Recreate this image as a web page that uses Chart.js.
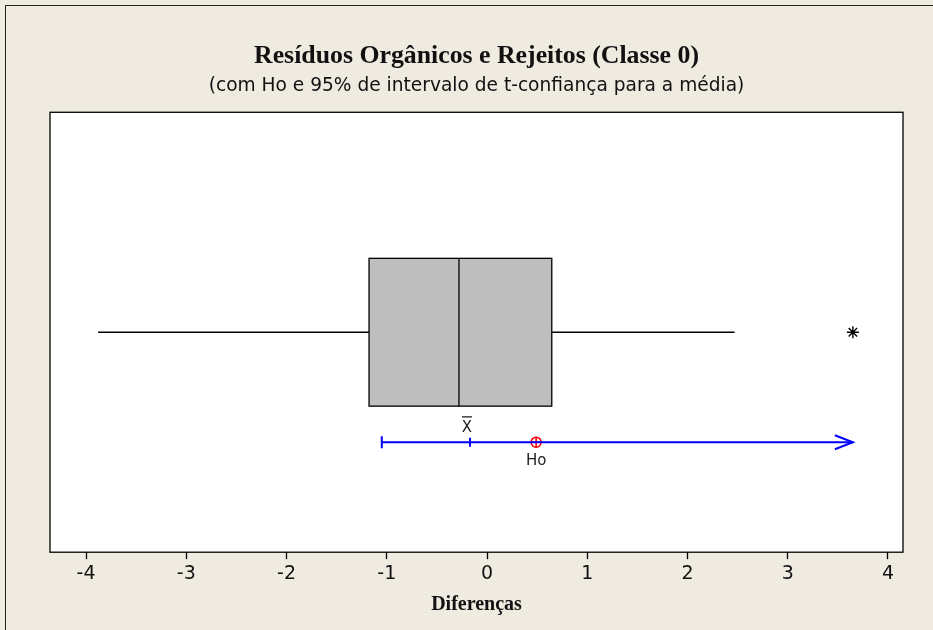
<!DOCTYPE html>
<html>
<head>
<meta charset="utf-8">
<script src="https://cdn.jsdelivr.net/npm/chart.js@4.4.1/dist/chart.umd.min.js"></script>
<style>
  html, body { margin: 0; padding: 0; background: #efebe0; overflow: hidden; }
  #frame { position: absolute; left: 5px; top: 5px; width: 960px; height: 660px; border: 1px solid #222; }
  #wrap { position: absolute; left: 0; top: 0; width: 933px; height: 630px; }
</style>
</head>
<body>
<div id="frame"></div>
<div id="wrap"><canvas id="boxChart"></canvas></div>
<script>
// Boxplot de diferenças
const fiveNumbers = [-3.88, -1.177, -0.28, 0.646, 2.47];  // min whisker, Q1, mediana, Q3, max whisker
const outliers = [3.65];
const ciBounds = [-1.05, 3.65];                            // intervalo t (seta à direita)
const meanValue = [-0.17];
const hoValue = [0.49];
const xTicks = [-4, -3, -2, -1, 0, 1, 2, 3, 4];

const BOX_Y = 5, BOX_HALF = 1.68, CI_Y = 2.5;

const boxPlugin = {
  id: 'boxPlugin',
  beforeDatasetsDraw(chart) {
    const { ctx, chartArea, scales: { x, y } } = chart;
    ctx.save();
    ctx.fillStyle = '#ffffff';
    ctx.fillRect(chartArea.left, chartArea.top, chartArea.width, chartArea.height);
    // box
    const x1 = x.getPixelForValue(fiveNumbers[1]);
    const x2 = x.getPixelForValue(fiveNumbers[3]);
    const xm = x.getPixelForValue(fiveNumbers[2]);
    const yt = y.getPixelForValue(BOX_Y + BOX_HALF);
    const yb = y.getPixelForValue(BOX_Y - BOX_HALF);
    ctx.fillStyle = '#bebebe';
    ctx.fillRect(x1, yt, x2 - x1, yb - yt);
    ctx.strokeStyle = '#000';
    ctx.lineWidth = 1.3;
    ctx.strokeRect(x1, yt, x2 - x1, yb - yt);
    ctx.beginPath();
    ctx.moveTo(xm, yt);
    ctx.lineTo(xm, yb);
    ctx.stroke();
    ctx.restore();
  },
  afterDatasetsDraw(chart) {
    const { ctx, chartArea, scales: { x, y } } = chart;
    ctx.save();
    // arrow head at upper end of interval
    const ax = x.getPixelForValue(ciBounds[1]);
    const ay = y.getPixelForValue(CI_Y);
    ctx.strokeStyle = '#0000ff';
    ctx.lineWidth = 2;
    ctx.beginPath();
    ctx.moveTo(ax - 18, ay - 7);
    ctx.lineTo(ax, ay);
    ctx.lineTo(ax - 18, ay + 7);
    ctx.stroke();
    // labels
    ctx.fillStyle = '#222';
    ctx.font = '15px "DejaVu Sans"';
    ctx.textAlign = 'center';
    ctx.textBaseline = 'middle';
    const mx = x.getPixelForValue(meanValue[0]);
    ctx.fillText('X', mx - 3, ay - 14);
    ctx.fillRect(mx - 8, ay - 26, 10, 1.3);
    ctx.fillText('Ho', x.getPixelForValue(hoValue[0]), ay + 19);
    // plot frame
    ctx.strokeStyle = '#000';
    ctx.lineWidth = 1.3;
    ctx.strokeRect(chartArea.left, chartArea.top, chartArea.width, chartArea.height);
    ctx.restore();
  }
};

new Chart(document.getElementById('boxChart'), {
  type: 'scatter',
  data: {
    datasets: [
      { data: [{ x: fiveNumbers[0], y: BOX_Y }, { x: fiveNumbers[1], y: BOX_Y }], showLine: true,
        borderColor: '#000', borderWidth: 1.3, pointRadius: 0 },
      { data: [{ x: fiveNumbers[3], y: BOX_Y }, { x: fiveNumbers[4], y: BOX_Y }], showLine: true,
        borderColor: '#000', borderWidth: 1.3, pointRadius: 0 },
      { data: outliers.map(v => ({ x: v, y: BOX_Y })), pointStyle: 'star', pointRadius: 6,
        borderColor: '#000', borderWidth: 1.4 },
      { data: ciBounds.map(v => ({ x: v, y: CI_Y })), showLine: true,
        borderColor: '#0000ff', borderWidth: 2, pointRadius: 0 },
      { data: [{ x: ciBounds[0], y: CI_Y }], pointStyle: 'line', rotation: 90, pointRadius: 6,
        borderColor: '#0000ff', borderWidth: 2 },
      { data: meanValue.map(v => ({ x: v, y: CI_Y })), pointStyle: 'line', rotation: 90, pointRadius: 4.5,
        borderColor: '#0000ff', borderWidth: 2 },
      { data: hoValue.map(v => ({ x: v, y: CI_Y })), pointStyle: 'circle', pointRadius: 5,
        borderColor: '#ff0000', backgroundColor: 'rgba(0,0,0,0)', borderWidth: 1.6 },
      { data: hoValue.map(v => ({ x: v, y: CI_Y })), pointStyle: 'cross', pointRadius: 5,
        borderColor: '#ff0000', borderWidth: 1.6 }
    ]
  },
  options: {
    responsive: true,
    maintainAspectRatio: false,
    animation: false,
    events: [],
    layout: { padding: { left: 50, right: 30, top: 0, bottom: 13 } },
    scales: {
      x: {
        type: 'linear',
        min: -4.36,
        max: 4.15,
        afterBuildTicks: (axis) => { axis.ticks = xTicks.map(v => ({ value: v })); },
        grid: { display: true, drawOnChartArea: false, drawTicks: true, tickLength: 7, color: '#000', tickWidth: 1.3 },
        border: { display: false },
        ticks: { color: '#111', font: { family: 'DejaVu Sans', size: 19 }, padding: 3, maxRotation: 0 },
        title: { display: true, text: 'Diferenças', color: '#111',
          font: { family: 'Liberation Serif', size: 20, weight: 'bold' }, padding: { top: 5, bottom: 0 } }
      },
      y: { display: false, min: 0, max: 10 }
    },
    plugins: {
      legend: { display: false },
      tooltip: { enabled: false },
      title: {
        display: true,
        text: 'Resíduos Orgânicos e Rejeitos (Classe 0)',
        color: '#111',
        font: { family: 'Liberation Serif', size: 25.8, weight: 'bold' },
        padding: { top: 41, bottom: 3 }
      },
      subtitle: {
        display: true,
        text: '(com Ho e 95% de intervalo de t-confiança para a média)',
        color: '#111',
        font: { family: 'DejaVu Sans', size: 18.6 },
        padding: { bottom: 15 }
      }
    }
  },
  plugins: [boxPlugin]
});
</script>
</body>
</html>
